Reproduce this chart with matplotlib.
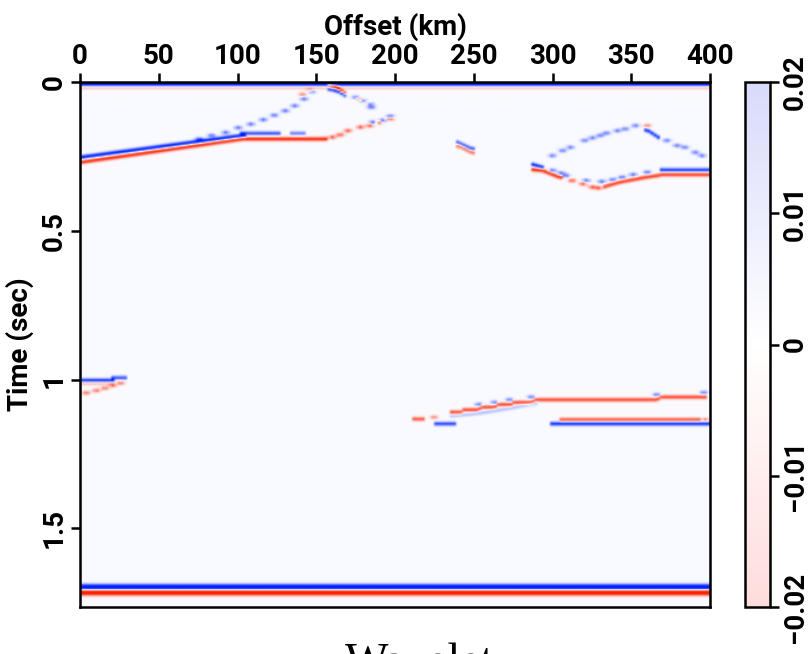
import numpy as np
import matplotlib
matplotlib.use("Agg")
import matplotlib.pyplot as plt
from matplotlib.colors import LinearSegmentedColormap, Normalize
from matplotlib.cm import ScalarMappable

# grid of the section
offsets = np.arange(0, 401, 2.0)          # km
times = np.arange(0, 1.768, 0.004)        # sec

# events: (offset, time) points, + = blue lobe, - = red lobe
top_blue = [(0, 0.004), (400, 0.004)]
top_red = [(0, 0.016), (400, 0.016)]

dip_blue = [(0, 0.251), (103, 0.178)]
dip_red = [(0, 0.268), (103, 0.190), (155, 0.190)]
flat_blue = [(103, 0.171), (126, 0.171)]
flat_blue_dash = [(134, 0.171), (141, 0.171)]

diff_left_dots_x = [75, 83, 92, 100, 108, 116, 123, 130, 136, 142, 147]
diff_left_dots_t = [0.190, 0.178, 0.168, 0.152, 0.140, 0.125, 0.110, 0.095, 0.078, 0.055, 0.030]
apex_red_dots_x = [141, 146]
apex_red_dots_t = [0.040, 0.025]

apex_red = [(158, 0.010), (163, 0.016), (168, 0.035)]
apex_blue = [(159, 0.022), (164, 0.030), (168, 0.042)]
tail_blue_dots_x = [175, 180, 184, 185]
tail_blue_dots_t = [0.050, 0.062, 0.072, 0.083]
tail_red_dots_x = [177, 182]
tail_red_dots_t = [0.055, 0.068]

rise_red_dots_x = [160, 165, 170, 178, 184, 190, 197]
rise_red_dots_t = [0.184, 0.176, 0.162, 0.150, 0.145, 0.134, 0.122]
rise_blue_dots_x = [186, 192, 197]
rise_blue_dots_t = [0.134, 0.128, 0.114]

seg245_blue = [(240, 0.201), (249, 0.223)]
seg245_red = [(241, 0.214), (249, 0.236)]

diff_right_up_x = [300.5, 307, 312, 321, 326, 331, 335, 342, 347, 353.5]
diff_right_up_t = [0.246, 0.229, 0.218, 0.195, 0.186, 0.178, 0.170, 0.162, 0.156, 0.145]
diff_right_red_x = [361]
diff_right_red_t = [0.145]
diff_right_thick = [(361, 0.160), (368, 0.184)]
diff_right_down_x = [373.5, 380, 385, 391.6, 396]
diff_right_down_t = [0.195, 0.212, 0.218, 0.235, 0.246]

bowl_blue = [(288, 0.276), (294, 0.285)]
bowl_blue_dots_x = [300.5, 306, 309, 322, 332, 339, 345, 352, 361]
bowl_blue_dots_t = [0.296, 0.305, 0.313, 0.330, 0.333, 0.327, 0.319, 0.310, 0.302]
bowl_red = [(288, 0.293), (294, 0.296), (305, 0.319)]
bowl_red_dots_x = [313, 320, 326, 330]
bowl_red_dots_t = [0.330, 0.341, 0.352, 0.355]
bowl_red_rise = [(334, 0.350), (343, 0.336), (351, 0.328), (360, 0.319), (368, 0.313)]
bowl_flat_blue = [(370, 0.294), (400, 0.294)]
bowl_flat_red = [(370, 0.310), (400, 0.310)]

one_blue = [(0, 1.003), (20, 1.003)]
one_blue_step = [(21, 0.994), (27, 0.994)]
one_red = [(0, 1.012), (20, 1.012)]
one_red_dots_x = [3, 9.5, 15, 20, 25]
one_red_dots_t = [1.045, 1.037, 1.029, 1.020, 1.012]

mid_red_dash = [(212, 1.133), (218, 1.133)]
mid_red_dot_x = [225]
mid_red_dot_t = [1.127]
mid_blue_short = [(226, 1.149), (238, 1.149)]
mid_red_steps = [(237, 1.110), (243, 1.110), (244, 1.102), (253, 1.102), (255, 1.093),
                 (263.5, 1.093), (265.6, 1.084), (274, 1.084), (276, 1.077), (287, 1.077),
                 (290, 1.068), (367, 1.068), (370, 1.059), (398, 1.059)]
mid_blue_under = [(237, 1.122), (253, 1.114), (274, 1.096), (290, 1.080)]
mid_blue_dots_x = [253.5, 263.5, 273, 287, 367, 397]
mid_blue_dots_t = [1.084, 1.077, 1.068, 1.059, 1.051, 1.044]
low_red = [(307, 1.135), (394, 1.135)]
low_red_dot_x = [398]
low_red_dot_t = [1.135]
low_blue = [(300, 1.149), (400, 1.149)]

bottom_blue = [(0, 1.699), (400, 1.699)]
bottom_red = [(0, 1.717), (400, 1.717)]

section = np.zeros((len(times), len(offsets)))


def add_line(pts, amp, sig=0.005):
    px = [p[0] for p in pts]
    pt = [p[1] for p in pts]
    for j, x in enumerate(offsets):
        if px[0] - 1 <= x <= px[-1] + 1:
            t0 = np.interp(x, px, pt)
            section[:, j] += amp * np.exp(-0.5 * ((times - t0) / sig) ** 2)


def add_dots(xs, ts, amp, sig=0.005):
    for x, t0 in zip(xs, ts):
        wx = np.exp(-0.5 * ((offsets - x) / 1.6) ** 2)
        wt = np.exp(-0.5 * ((times - t0) / sig) ** 2)
        section[:, :] += amp * np.outer(wt, wx)


add_line(top_blue, 1.2, 0.006)
add_line(top_red, -0.3)
add_line(dip_blue, 0.95)
add_line(dip_red, -0.9)
add_line(flat_blue, 0.7)
add_line(flat_blue_dash, 0.5)
add_dots(diff_left_dots_x, diff_left_dots_t, 0.6)
add_dots(apex_red_dots_x, apex_red_dots_t, -0.5)
add_line(apex_red, -0.9)
add_line(apex_blue, 0.9)
add_dots(tail_blue_dots_x, tail_blue_dots_t, 0.6)
add_dots(tail_red_dots_x, tail_red_dots_t, -0.5)
add_dots(rise_red_dots_x, rise_red_dots_t, -0.7)
add_dots(rise_blue_dots_x, rise_blue_dots_t, 0.7)
add_line(seg245_blue, 0.7)
add_line(seg245_red, -0.6)
add_dots(diff_right_up_x, diff_right_up_t, 0.55)
add_dots(diff_right_red_x, diff_right_red_t, -0.5)
add_line(diff_right_thick, 0.85)
add_dots(diff_right_down_x, diff_right_down_t, 0.55)
add_line(bowl_blue, 0.9)
add_dots(bowl_blue_dots_x, bowl_blue_dots_t, 0.6)
add_line(bowl_red, -0.9)
add_dots(bowl_red_dots_x, bowl_red_dots_t, -0.7)
add_line(bowl_red_rise, -0.8)
add_line(bowl_flat_blue, 0.8)
add_line(bowl_flat_red, -0.8)
add_line(one_blue, 0.9)
add_line(one_blue_step, 0.7)
add_line(one_red, -0.35)
add_dots(one_red_dots_x, one_red_dots_t, -0.6)
add_line(mid_red_dash, -0.7)
add_dots(mid_red_dot_x, mid_red_dot_t, -0.5)
add_line(mid_blue_short, 0.75)
add_line(mid_red_steps, -0.75)
add_line(mid_blue_under, 0.25)
add_dots(mid_blue_dots_x, mid_blue_dots_t, 0.55)
add_line(low_red, -0.7)
add_dots(low_red_dot_x, low_red_dot_t, -0.5)
add_line(low_blue, 0.85)
add_line(bottom_blue, 1.3, 0.007)
add_line(bottom_red, -1.3, 0.007)

section = np.clip(section, -1, 1)

img_cmap = LinearSegmentedColormap.from_list(
    "rwb", [(0.0, "#ff2200"), (0.5, "#fafbff"), (1.0, "#0022ff")])
bar_cmap = LinearSegmentedColormap.from_list(
    "pale", [(0.0, "#ffdcdc"), (0.5, "#ffffff"), (1.0, "#d8dafa")])

plt.rcParams['font.family'] = ['Roboto', 'DejaVu Sans']
plt.rcParams['font.weight'] = 'bold'
fs = 20
fig = plt.figure(figsize=(8.1, 6.54), dpi=100)
W, H = 810, 654
ax = fig.add_axes([80 / W, (H - 607) / H, 630 / W, 525 / H])
ax.imshow(section, cmap=img_cmap, vmin=-1, vmax=1, aspect='auto',
          extent=[0, 400, times[-1], 0], interpolation='bilinear')
ax.set_xlim(0, 400)
ax.set_ylim(times[-1], 0)

ax.xaxis.set_ticks_position('top')
ax.xaxis.set_label_position('top')
ax.set_xticks(np.arange(0, 401, 50))
ax.set_yticks([0, 0.5, 1, 1.5])
ax.set_yticklabels(['0', '0.5', '1', '1.5'], rotation=90, va='center')
ax.tick_params(axis='both', direction='out', length=6.5, width=1.8,
               labelsize=fs, pad=2.2)
ax.set_xlabel('Offset (km)', fontsize=fs, labelpad=6, fontweight='bold')
ax.set_ylabel('Time (sec)', fontsize=fs, labelpad=5, fontweight='bold')
for s in ax.spines.values():
    s.set_linewidth(1.8)

cax = fig.add_axes([745 / W, (H - 607) / H, 25 / W, 525 / H])
cb = fig.colorbar(ScalarMappable(norm=Normalize(-0.02, 0.02), cmap=bar_cmap),
                  cax=cax, ticks=[-0.02, -0.01, 0, 0.01, 0.02])
cb.set_ticklabels(['\u22120.02', '\u22120.01', '0', '0.01', '0.02'])
cax.tick_params(direction='out', length=6.5, width=1.8, labelsize=fs, pad=2.2)
for lab in cax.get_yticklabels():
    lab.set_rotation(90)
    lab.set_va('center')
cb.outline.set_linewidth(1.8)

fig.text(345 / W, (H - 676) / H, 'Wavelet', fontsize=33, fontweight='normal',
         family='Liberation Serif', ha='left', va='baseline')

plt.savefig('out.png', dpi=100)
